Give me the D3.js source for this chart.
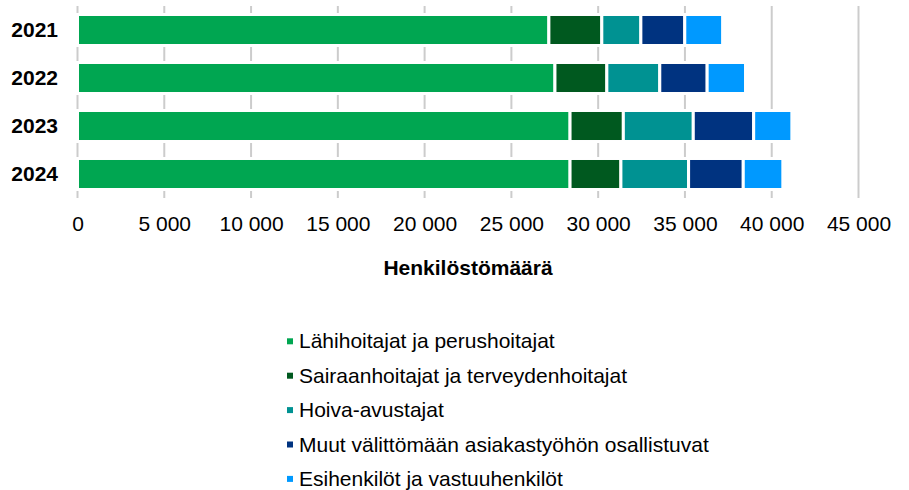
<!DOCTYPE html>
<html><head><meta charset="utf-8">
<script src="https://cdn.jsdelivr.net/npm/d3@7/dist/d3.min.js"></script>
<style>body{margin:0;background:#fff}svg{display:block;font-family:"Liberation Sans",Arial,sans-serif}</style>
</head><body><svg id="c" width="909" height="490"></svg>
<script>
const years = ["2021","2022","2023","2024"];
const seriesNames = ["Lähihoitajat ja perushoitajat","Sairaanhoitajat ja terveydenhoitajat","Hoiva-avustajat","Muut välittömään asiakastyöhön osallistuvat","Esihenkilöt ja vastuuhenkilöt"];
const lahihoitajat = [27160, 27510, 28380, 28380];
const sairaanhoitajat = [3050, 2990, 3070, 2930];
const hoivaAvustajat = [2250, 3050, 4030, 3900];
const muut = [2530, 2730, 3480, 3150];
const esihenkilot = [2180, 2210, 2200, 2280];
const colors = ["#00A651","#00591F","#009292","#003380","#0099FF"];
const xTicks = [0,5000,10000,15000,20000,25000,30000,35000,40000,45000];
const axisTitle = "Henkilöstömäärä";

const seriesVals = [lahihoitajat, sairaanhoitajat, hoivaAvustajat, muut, esihenkilot];
const table = years.map((y,i)=>{const o={year:y}; seriesNames.forEach((s,j)=>o[s]=seriesVals[j][i]); return o;});
const stacked = d3.stack().keys(seriesNames)(table);

const svg = d3.select("#c");
const x = d3.scaleLinear().domain([0,45000]).range([77.5,858.5]);
const y = d3.scaleBand().domain(years).range([6,198]).paddingInner(0.354).paddingOuter(0.177);
const loc = d3.formatLocale({decimal:",",thousands:"\u00a0",grouping:[3],currency:["","€"]});
const fmt = loc.format(",d");

// gridlines
svg.append("g").selectAll("line").data(xTicks).join("line")
  .attr("x1",d=>x(d)).attr("x2",d=>x(d)).attr("y1",6).attr("y2",198)
  .attr("stroke","#cccccc").attr("stroke-width",2);

// bars
svg.append("g").selectAll("g").data(stacked).join("g")
  .attr("fill",(d,i)=>colors[i])
  .selectAll("rect").data(d=>d).join("rect")
  .attr("x",d=>x(d[0])).attr("width",d=>x(d[1])-x(d[0]))
  .attr("y",d=>y(d.data.year)).attr("height",y.bandwidth())
  .attr("stroke","#fff").attr("stroke-width",3);

// x axis labels
const xa = svg.append("g").attr("transform","translate(0,231)")
  .call(d3.axisBottom(x).tickValues(xTicks).tickFormat(fmt).tickSize(0).tickPadding(0));
xa.select(".domain").remove();
xa.selectAll("text").attr("font-size",21).attr("fill","#000").attr("font-family","Liberation Sans, Arial, sans-serif").attr("dy",0);

// y axis labels
const ya = svg.append("g").attr("transform","translate(58,0)")
  .call(d3.axisLeft(y).tickSize(0).tickPadding(0));
ya.select(".domain").remove();
ya.selectAll("text").attr("font-size",21).attr("font-weight","bold").attr("fill","#000")
  .attr("font-family","Liberation Sans, Arial, sans-serif").attr("dy","0.35em");

// axis title
svg.append("text").attr("x",(x(0)+x(45000))/2).attr("y",275).attr("text-anchor","middle")
  .attr("font-size",21).attr("font-weight","bold").text(axisTitle);

// legend
const lg = svg.append("g").selectAll("g").data(seriesNames).join("g")
  .attr("transform",(d,i)=>`translate(287,${348.3+i*34.4})`);
lg.append("rect").attr("x",0).attr("y",-10).attr("width",6).attr("height",6).attr("fill",(d,i)=>colors[i]);
lg.append("text").attr("x",12).attr("y",0).attr("font-size",21).attr("fill","#000").text(d=>d);
</script></body></html>
